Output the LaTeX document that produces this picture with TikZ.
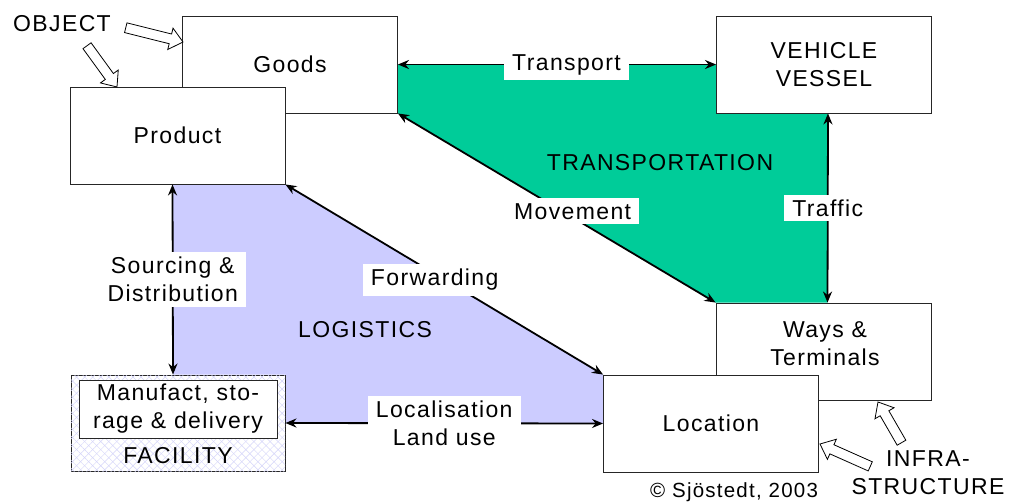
\documentclass[tikz,border=0pt]{standalone}
\usepackage{fontspec}
\setmainfont{Liberation Sans}[LetterSpace=6]
\usetikzlibrary{arrows.meta,backgrounds,patterns.meta}
\definecolor{transgreen}{RGB}{0,204,153}
\definecolor{logblue}{RGB}{204,204,255}
\definecolor{hatchblue}{RGB}{212,212,250}
\tikzset{
  box/.style={draw=black!85,fill=white,line width=0.9pt,minimum width=215pt,minimum height=97pt,align=center,inner sep=0pt},
  biarrow/.style={<->,line width=1.8pt},
  lbl/.style={fill=white,align=center,inner xsep=8pt,inner ysep=5pt},
  hatch/.style={pattern={Lines[angle=45,distance=5.7pt,line width=0.45pt]},pattern color=hatchblue},
  hatchback/.style={pattern={Lines[angle=-45,distance=5.7pt,line width=0.45pt]},pattern color=hatchblue},
  pics/blockarrow/.style={code={\draw[fill=white,line width=0.8pt] (0,0) -- (-13,11) -- (-13,5) -- (-#1,5) -- (-#1,-5) -- (-13,-5) -- (-13,-11) -- cycle;}}
}
\begin{document}
\begin{tikzpicture}[x=1pt,y=-1pt,>={Stealth[length=11pt,width=9pt]},font=\fontsize{23}{28}\selectfont]
\useasboundingbox (0,0) rectangle (1011,502);
% boxes
\node[box] (goods) at (290,64.5) {Goods};
\node[box] (product) at (177.5,135.5) {Product};
\node[box] (vehicle) at (824,64.5) {VEHICLE\\VESSEL};
\node[box] (ways) at (823.5,351.5) {};
\node[align=center] (waystext) at (825,343.5) {Ways \&\\Terminals};
\node[box] (location) at (711,423.5) {Location};
\node[box,minimum width=214pt,minimum height=96pt,postaction={hatch},postaction={hatchback}] (facility) at (178,423) {};
\node[box,minimum width=198pt,minimum height=58pt] (plant) at (178,409) {Manufact, sto-\\rage \& delivery};
\node (facilitytext) at (178,456) {FACILITY};
% coloured areas
\begin{scope}[on background layer]
\fill[transgreen] (goods.east) -- (vehicle.west) -- (vehicle.south west) -- ([xshift=4pt]vehicle.south) -- ([xshift=4pt]ways.north) -- (ways.north west) -- (goods.south east) -- cycle;
\fill[logblue] ([xshift=-5pt]product.south) -- (product.south east) -- (location.north west) -- (location.west) -- (facility.east) -- (facility.north east) -- ([xshift=-5pt]facility.north) -- cycle;
\end{scope}
% relations
\draw[biarrow] (goods.east) -- node[lbl,pos=0.53] {Transport} (vehicle.west);
\draw[biarrow] (goods.south east) -- node[lbl,pos=0.55,yshift=6pt] {Movement} (ways.north west);
\draw[biarrow] ([xshift=4pt]vehicle.south) -- node[lbl] {Traffic} ([xshift=4pt]ways.north);
\draw[biarrow] (product.south east) -- node[lbl,pos=0.47,yshift=-6pt] {Forwarding} (location.north west);
\draw[biarrow] ([xshift=-5pt]product.south) -- node[lbl] {Sourcing \&\\Distribution} ([xshift=-5pt]facility.north);
\draw[biarrow] (facility.east) -- node[lbl] {Localisation\\Land use} (location.west);
% area names
\node (transportation) at (660,163) {TRANSPORTATION};
\node (logistics) at (365,330) {LOGISTICS};
\node (object) at (62,24) {OBJECT};
\node[align=center] (infra) at (928,473) {INFRA-\\STRUCTURE};
\node[font=\fontsize{20.5}{24}\selectfont] (copyright) at (734,492) {\textcopyright{} Sjöstedt, 2003};
% hollow arrows
\pic[rotate=-14] at (183,42) {blockarrow=59};
\pic[rotate=-54] at (117,87) {blockarrow=51};
\pic[rotate=120] at (878,402) {blockarrow=47};
\pic[rotate=156] at (820,444) {blockarrow=55};
\end{tikzpicture}
\end{document}
